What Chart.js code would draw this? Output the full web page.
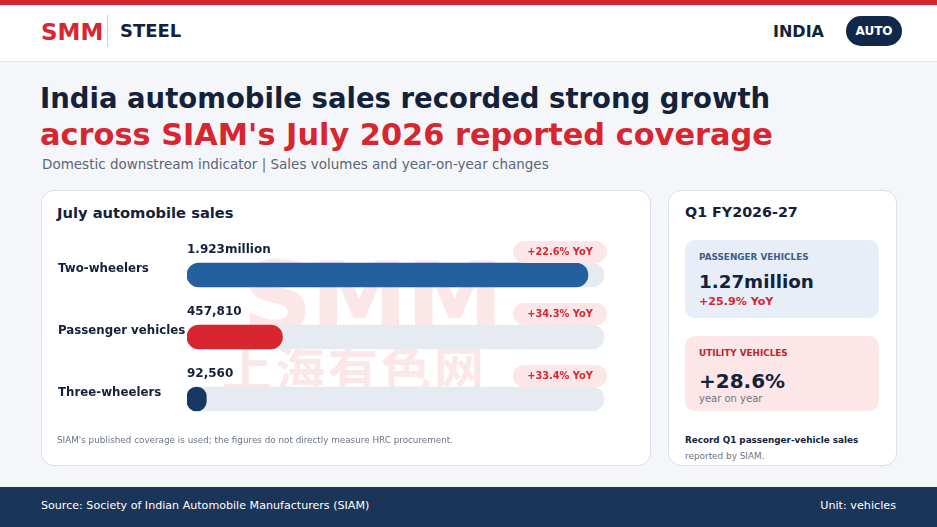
<!DOCTYPE html>
<html>
<head>
<meta charset="utf-8">
<script src="https://cdn.jsdelivr.net/npm/chart.js@4.4.1/dist/chart.umd.min.js"></script>
<style>
  html, body { margin:0; padding:0; }
  body { width:937px; height:527px; position:relative; overflow:hidden; background:#f4f6f9; font-family:"DejaVu Sans", sans-serif; color:#13223a; }
  .abs { position:absolute; white-space:nowrap; }
  #topbar { left:0; top:0; width:937px; height:5px; background:#d7262f; }
  #header { left:0; top:5px; width:937px; height:56px; background:#ffffff; border-bottom:1px solid #e3e7ed; }
  .card { position:absolute; background:#ffffff; border:1px solid #dbe1ea; border-radius:13px; box-sizing:border-box; }
  #footer { left:0; top:487px; width:937px; height:40px; background:#1b3558; }
</style>
</head>
<body>
<script>
// ---- data ----
const categories = ["Two-wheelers", "Passenger vehicles", "Three-wheelers"];
const julySales = [1923000, 457810, 92560];
const valueLabels = ["1.923million", "457,810", "92,560"];
const yoyLabels = ["+22.6% YoY", "+34.3% YoY", "+33.4% YoY"];
const scaleMax = 2000000;
const trackValues = [2000000, 2000000, 2000000];
const barColors = ["#24609f", "#d7262f", "#173863"];
</script>

<div id="topbar" class="abs"></div>
<div id="header" class="abs"></div>
<div class="abs" style="left:41px;top:18px;font-size:23px;line-height:28px;font-weight:bold;color:#d7262f;">SMM</div>
<div class="abs" style="left:107px;top:15px;width:1px;height:32px;background:#c9ced6;"></div>
<div class="abs" style="left:120px;top:19px;font-size:18px;line-height:24px;font-weight:bold;color:#13223a;">STEEL</div>
<div class="abs" style="left:773px;top:21px;font-size:16px;line-height:22px;font-weight:bold;color:#13223a;">INDIA</div>
<div class="abs" style="left:846px;top:16px;width:56px;height:30px;border-radius:15px;background:#12284a;color:#fff;font-size:12px;font-weight:bold;line-height:30px;text-align:center;">AUTO</div>

<div class="abs" style="left:40px;top:80px;font-size:27.5px;line-height:36px;font-weight:bold;color:#13223a;">India automobile sales recorded strong growth</div>
<div class="abs" style="left:40px;top:116px;font-size:30.4px;line-height:38px;font-weight:bold;color:#d7262f;">across SIAM's July 2026 reported coverage</div>
<div class="abs" style="left:42px;top:155px;font-size:13.5px;line-height:18px;color:#5b6677;">Domestic downstream indicator | Sales volumes and year-on-year changes</div>

<div class="card" style="left:41px;top:190px;width:610px;height:276px;"></div>
<div class="abs" style="left:57px;top:203px;font-size:14.7px;line-height:20px;font-weight:bold;color:#13223a;">July automobile sales</div>
<div class="abs" style="left:242px;top:246px;font-size:98px;line-height:104px;font-weight:bold;color:rgba(215,38,47,0.11);letter-spacing:-2px;">SMM</div>
<div class="abs" style="left:222px;top:340px;font-size:50px;line-height:52px;font-weight:bold;color:rgba(215,38,47,0.11);font-family:'Noto Sans CJK SC';letter-spacing:3px;">上海有色网</div>
<div class="abs" style="left:41px;top:230px;width:609px;height:206px;"><canvas id="c"></canvas></div>
<div class="abs" style="left:57px;top:434px;font-size:8.8px;line-height:12px;color:#6b7483;">SIAM's published coverage is used; the figures do not directly measure HRC procurement.</div>

<div class="card" style="left:668px;top:190px;width:229px;height:276px;"></div>
<div class="abs" style="left:685px;top:202px;font-size:14.3px;line-height:20px;font-weight:bold;color:#13223a;">Q1 FY2026-27</div>
<div class="abs" style="left:685px;top:240px;width:194px;height:78px;border-radius:10px;background:#e8eef7;"></div>
<div class="abs" style="left:699px;top:251px;font-size:8.85px;line-height:12px;font-weight:bold;color:#3d5d8a;">PASSENGER VEHICLES</div>
<div class="abs" style="left:699px;top:270px;font-size:18.3px;line-height:24px;font-weight:bold;color:#13223a;">1.27million</div>
<div class="abs" style="left:699px;top:294px;font-size:11.1px;line-height:16px;font-weight:bold;color:#d7262f;">+25.9% YoY</div>
<div class="abs" style="left:685px;top:336px;width:194px;height:75px;border-radius:10px;background:#fce6e7;"></div>
<div class="abs" style="left:699px;top:347px;font-size:8.8px;line-height:12px;font-weight:bold;color:#c0232c;">UTILITY VEHICLES</div>
<div class="abs" style="left:699px;top:368px;font-size:20px;line-height:26px;font-weight:bold;color:#13223a;">+28.6%</div>
<div class="abs" style="left:699px;top:392px;font-size:10px;line-height:14px;color:#6b7483;">year on year</div>
<div class="abs" style="left:685px;top:434px;font-size:8.8px;line-height:13px;font-weight:bold;color:#13223a;">Record Q1 passenger-vehicle sales</div>
<div class="abs" style="left:685px;top:450px;font-size:8.9px;line-height:13px;color:#6b7483;">reported by SIAM.</div>

<div id="footer" class="abs"></div>
<div class="abs" style="left:41px;top:498px;font-size:11.1px;line-height:16px;color:#ffffff;">Source: Society of Indian Automobile Manufacturers (SIAM)</div>
<div class="abs" style="right:41px;top:498px;font-size:11.2px;line-height:16px;color:#ffffff;">Unit: vehicles</div>

<script>
function roundRect(ctx, x, y, w, h, r) {
  ctx.beginPath();
  ctx.moveTo(x + r, y);
  ctx.lineTo(x + w - r, y);
  ctx.arcTo(x + w, y, x + w, y + r, r);
  ctx.lineTo(x + w, y + h - r);
  ctx.arcTo(x + w, y + h, x + w - r, y + h, r);
  ctx.lineTo(x + r, y + h);
  ctx.arcTo(x, y + h, x, y + h - r, r);
  ctx.lineTo(x, y + r);
  ctx.arcTo(x, y, x + r, y, r);
  ctx.closePath();
}
const labelPlugin = {
  id: 'labelPlugin',
  afterDatasetsDraw(chart) {
    const ctx = chart.ctx;
    const meta = chart.getDatasetMeta(0);
    const xs = chart.scales.x;
    meta.data.forEach((bar, i) => {
      const y = bar.y;
      ctx.save();
      ctx.textBaseline = 'middle';
      // category label
      ctx.fillStyle = '#13223a';
      ctx.font = 'bold 11.8px "DejaVu Sans"';
      ctx.textAlign = 'left';
      ctx.fillText(categories[i], 17, y - 6);
      // value label
      ctx.font = 'bold 12px "DejaVu Sans"';
      ctx.fillText(valueLabels[i], xs.getPixelForValue(0), y - 25);
      // yoy pill
      const right = xs.getPixelForValue(scaleMax) + 3;
      const pw = 94, ph = 22;
      const py = y - 23 - ph / 2;
      ctx.fillStyle = '#fce6e7';
      roundRect(ctx, right - pw, py, pw, ph, 11);
      ctx.fill();
      ctx.fillStyle = '#d7262f';
      ctx.font = 'bold 9.8px "DejaVu Sans"';
      ctx.textAlign = 'center';
      ctx.fillText(yoyLabels[i], right - pw / 2, y - 23);
      ctx.restore();
    });
  }
};

new Chart(document.getElementById('c'), {
  type: 'bar',
  data: {
    labels: categories,
    datasets: [
      {
        data: julySales,
        backgroundColor: barColors,
        barThickness: 24,
        borderRadius: 12,
        borderSkipped: false,
        grouped: false,
        order: 1
      },
      {
        data: trackValues,
        backgroundColor: '#e6ebf2',
        barThickness: 24,
        borderRadius: 12,
        borderSkipped: false,
        grouped: false,
        order: 2
      }
    ]
  },
  options: {
    indexAxis: 'y',
    responsive: true,
    maintainAspectRatio: false,
    animation: false,
    layout: { padding: { left: 146, right: 46, top: 14, bottom: 6 } },
    plugins: { legend: { display: false }, tooltip: { enabled: false } },
    scales: {
      x: { display: false, min: 0, max: scaleMax },
      y: { display: false }
    }
  },
  plugins: [labelPlugin]
});
</script>
</body>
</html>
